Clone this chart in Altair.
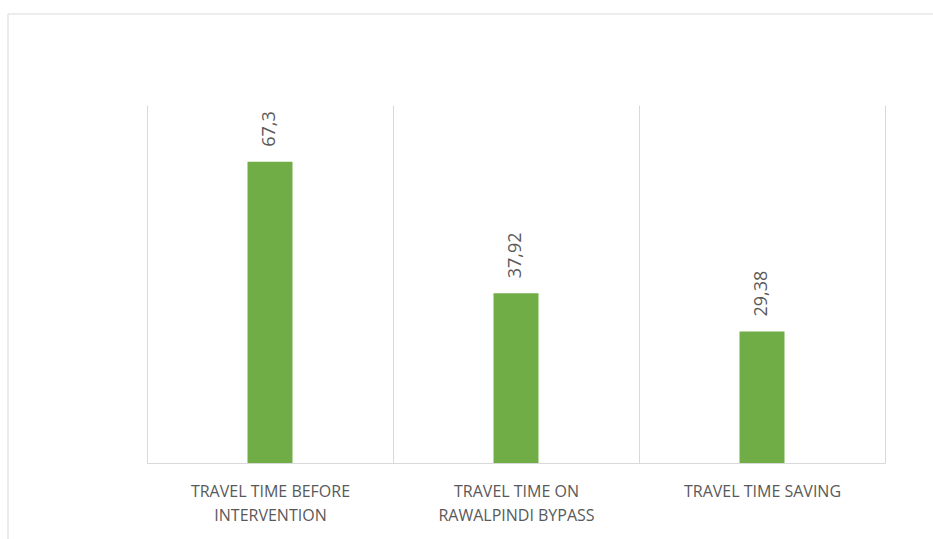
import json
import altair as alt
import pandas as pd

categories = [
    "TRAVEL TIME BEFORE INTERVENTION",
    "TRAVEL TIME ON RAWALPINDI BYPASS",
    "TRAVEL TIME SAVING",
]
values = [67.3, 37.92, 29.38]
label_lines = [
    ["TRAVEL TIME BEFORE", "INTERVENTION"],
    ["TRAVEL TIME ON", "RAWALPINDI BYPASS"],
    ["TRAVEL TIME SAVING"],
]

df = pd.DataFrame({"category": categories, "value": values})

expr = "datum.label"
for cat, lines in reversed(list(zip(categories, label_lines))):
    expr = f"datum.label == {json.dumps(cat)} ? {json.dumps(lines)} : ({expr})"

W, H = 738, 358
GRID = "#d9d9d9"
TEXT = "#595959"

x_enc = alt.X(
    "category:N",
    sort=categories,
    scale=alt.Scale(paddingInner=0, paddingOuter=0),
    axis=alt.Axis(
        title=None,
        grid=True,
        gridColor=GRID,
        gridWidth=1,
        tickBand="extent",
        ticks=False,
        domainColor=GRID,
        domainWidth=1,
        labelAngle=0,
        labelFont="Open Sans",
        labelFontSize=16,
        labelColor=TEXT,
        labelPadding=20,
        labelLineHeight=24,
        labelExpr=expr,
        labelLimit=400,
    ),
)
y_enc = alt.Y("value:Q", scale=alt.Scale(domain=[0, 80]), axis=None)

base = alt.Chart(df).encode(x=x_enc, y=y_enc)

bars = base.mark_bar(size=45, color="#70AD47")

labels = base.transform_calculate(
    label="replace(toString(datum.value), '.', ',')"
).mark_text(
    angle=270,
    align="left",
    baseline="middle",
    yOffset=-15,
    font="Open Sans",
    fontSize=18,
    color=TEXT,
).encode(text="label:N")

frame = alt.Chart(pd.DataFrame({"a": [0]})).mark_rect(
    fillOpacity=0, stroke=GRID, strokeWidth=1
).encode(
    x=alt.value(-139),
    x2=alt.value(W + 200),
    y=alt.value(-91),
    y2=alt.value(H + 200),
)

chart = alt.layer(frame, bars, labels).properties(
    width=W,
    height=H,
    autosize=alt.AutoSizeParams(type="none"),
    padding={"left": 147, "top": 105, "right": 48, "bottom": 76},
    background="white",
).configure_view(stroke=None)

chart.save("out.html", embed_options={"renderer": "svg", "actions": False})
